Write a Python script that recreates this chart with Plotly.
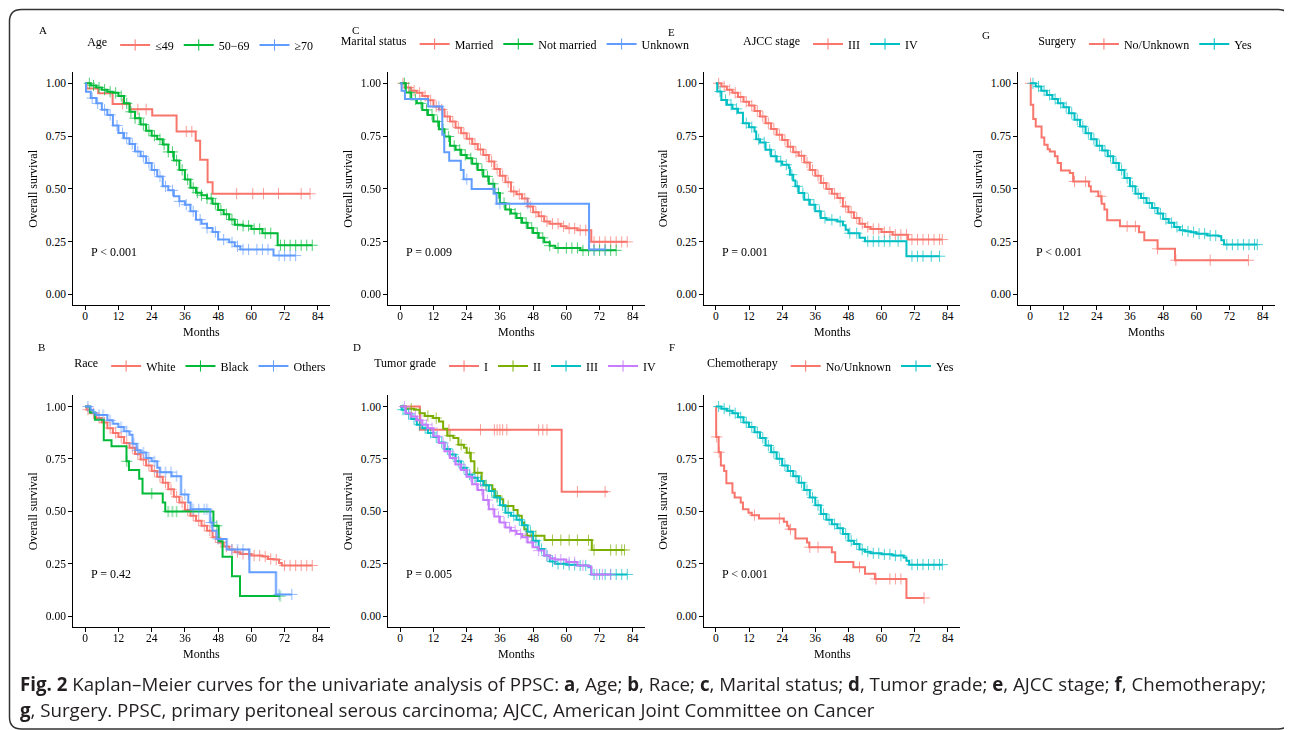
import plotly.graph_objects as go

# the page body has an 8px margin; figure is sized so it exactly fills the 1292x730 window
OFF = 8
FW, FH = 1292 - OFF, 730 - OFF
SERIF = "Liberation Serif, Times New Roman, serif"
SANS = "Open Sans, Noto Sans, sans-serif"

RED, GREEN3, BLUE3 = "#F8766D", "#00BA38", "#619CFF"
CYAN, OLIVE, PURPLE = "#00BFC4", "#7CAE00", "#C77CFF"

x_ticks = [0, 12, 24, 36, 48, 60, 72, 84]
y_ticks = [0.0, 0.25, 0.5, 0.75, 1.0]

# ---------------- A: Age ----------------
age_le49_t = [0, 0.5, 4.7, 9.9, 16.1, 24.2, 33.0, 39.9, 41.5, 44.2, 46.0, 81.2]
age_le49_s = [1.0, 0.976, 0.953, 0.902, 0.877, 0.847, 0.772, 0.728, 0.638, 0.531, 0.477, 0.477]
age_le49_c = [13.5, 19, 22, 36.5, 38.5, 54.7, 60.5, 64.4, 69.8, 78, 81.2]

age_5069_t = [0, 2, 4, 6, 8, 10, 12, 14, 16, 18, 20, 22, 24, 26, 28, 30, 32, 34, 36, 38, 40, 42, 44, 46, 48, 50, 52, 54, 57, 60, 64, 69.5, 82]
age_5069_s = [1.0, 0.99, 0.98, 0.97, 0.96, 0.955, 0.94, 0.905, 0.865, 0.835, 0.805, 0.775, 0.752, 0.735, 0.71, 0.675, 0.635, 0.59, 0.545, 0.505, 0.482, 0.47, 0.455, 0.43, 0.40, 0.38, 0.355, 0.33, 0.325, 0.31, 0.29, 0.233, 0.233]
age_5069_c = [1.5, 3, 5, 7, 9, 11, 13, 15, 16.5, 18, 19.5, 21, 23, 25, 27, 28.5, 30, 31.5, 33, 35, 37, 39, 40.5, 42, 44, 45.5, 47, 49, 51, 53, 55, 57, 59, 61, 63, 65, 67, 70.5, 72, 74, 76, 78, 80, 82]

age_ge70_t = [0, 0.3, 2, 4, 6, 8, 10, 12, 14, 16, 18, 20, 22, 24, 26, 28, 30, 32, 34, 36, 38, 40, 42, 44, 46, 48, 52, 54, 56, 68, 76]
age_ge70_s = [1.0, 0.96, 0.93, 0.905, 0.875, 0.85, 0.80, 0.765, 0.74, 0.713, 0.677, 0.654, 0.622, 0.59, 0.559, 0.512, 0.493, 0.465, 0.441, 0.425, 0.394, 0.354, 0.335, 0.315, 0.296, 0.26, 0.247, 0.228, 0.213, 0.184, 0.184]
age_ge70_c = [2.5, 4.5, 7, 9, 11.5, 13.5, 15, 17, 19, 21, 23, 25, 27, 29, 31.5, 34, 36.5, 39, 41.5, 44, 47, 50, 53, 55, 57, 59, 62, 64, 66, 70, 72, 74, 76]

# ---------------- B: Race ----------------
race_white_t = [0, 0.5, 2, 4, 6, 8, 10, 12, 14, 16, 18, 20, 22, 24, 26, 28, 30, 32, 34, 36, 38, 40, 42, 44, 46, 48, 50, 52, 54, 56, 60, 64, 66, 68, 70, 71, 82]
race_white_s = [1.0, 0.985, 0.968, 0.945, 0.924, 0.897, 0.874, 0.855, 0.826, 0.803, 0.774, 0.747, 0.719, 0.692, 0.665, 0.637, 0.605, 0.57, 0.542, 0.506, 0.479, 0.455, 0.431, 0.408, 0.376, 0.352, 0.332, 0.318, 0.305, 0.297, 0.289, 0.285, 0.273, 0.27, 0.254, 0.242, 0.242]
race_white_c = [1, 3, 5, 7, 9, 11, 13, 15, 17, 19, 21, 23, 25, 27, 29, 31, 33, 35, 37, 39, 41, 43, 45, 47, 49, 51, 53, 55, 57, 59, 61, 63, 65, 67, 69, 72, 74, 76, 78, 80, 82]

race_black_t = [0, 1.7, 3.5, 6.7, 9.5, 14.9, 15.8, 19.5, 20.7, 28.0, 28.9, 46.3, 48.2, 49.6, 53.0, 55.9, 70.4]
race_black_s = [1.0, 0.972, 0.937, 0.839, 0.81, 0.739, 0.697, 0.656, 0.585, 0.542, 0.499, 0.431, 0.357, 0.284, 0.191, 0.096, 0.096]
race_black_c = [15, 24, 30, 31.5, 33, 47.5, 70.4]

race_other_t = [0, 2, 3, 4, 8, 10, 12, 14, 16, 17.1, 18.6, 20, 22, 24, 26, 27, 31.2, 34.6, 37.2, 38.1, 45.1, 46, 47.5, 51.1, 59.3, 68.9, 74.6]
race_other_s = [1.0, 0.984, 0.97, 0.96, 0.934, 0.918, 0.902, 0.882, 0.866, 0.823, 0.791, 0.781, 0.755, 0.739, 0.708, 0.687, 0.668, 0.581, 0.542, 0.51, 0.447, 0.408, 0.368, 0.318, 0.21, 0.104, 0.104]
race_other_c = [1, 5, 6.5, 9, 13, 15, 17.5, 19, 21, 23, 25, 27, 29, 31, 33, 36, 39, 41, 43, 44, 45.5, 48, 53, 55, 57, 70, 74.6]

# ---------------- C: Marital status ----------------
mar_married_t = [0, 2, 4, 6, 8, 10, 12, 14, 16, 18, 20, 22, 24, 26, 28, 30, 32, 34, 36, 38, 40, 42, 44, 46, 48, 50, 52, 54, 58, 60, 64, 69, 82]
mar_married_s = [1.0, 0.98, 0.965, 0.955, 0.94, 0.92, 0.89, 0.876, 0.843, 0.819, 0.79, 0.764, 0.737, 0.713, 0.687, 0.661, 0.63, 0.594, 0.562, 0.531, 0.488, 0.475, 0.454, 0.417, 0.389, 0.37, 0.346, 0.335, 0.323, 0.313, 0.304, 0.249, 0.249]
mar_married_c = [1, 3, 5, 7, 9, 11, 13, 15, 17, 19, 21, 23, 25, 27, 29, 31, 33, 35, 37, 39, 41, 43, 45, 47, 49, 51, 53, 55, 57, 59, 61, 63, 65, 67, 70, 72, 74, 76, 78, 80, 82]

mar_single_t = [0, 2, 4, 6, 8, 10, 12, 14, 16, 18, 20, 22, 24, 26, 28, 30, 32, 34, 36, 38, 40, 42, 44, 46, 48, 50, 52, 54, 56, 65, 78]
mar_single_s = [1.0, 0.956, 0.924, 0.905, 0.874, 0.85, 0.819, 0.783, 0.748, 0.704, 0.685, 0.661, 0.645, 0.619, 0.59, 0.559, 0.524, 0.48, 0.433, 0.402, 0.383, 0.362, 0.339, 0.315, 0.291, 0.268, 0.247, 0.231, 0.22, 0.209, 0.209]
mar_single_c = [1.5, 3.5, 5.5, 7.5, 9.5, 11.5, 13.5, 15.5, 17.5, 19.5, 21.5, 23.5, 25.5, 27.5, 29.5, 31.5, 33.5, 35.5, 37.5, 39.5, 41.5, 43.5, 45.5, 47.5, 49.5, 51.5, 54, 57, 60, 62, 64, 66, 68, 70, 72, 74, 76, 78]

mar_unknown_t = [0, 0.5, 1.7, 10.1, 15.2, 15.9, 17.7, 21.9, 22.9, 25.8, 34.0, 34.8, 68.2, 74]
mar_unknown_s = [1.0, 0.965, 0.926, 0.89, 0.756, 0.674, 0.633, 0.59, 0.546, 0.5, 0.477, 0.43, 0.213, 0.213]
mar_unknown_c = [14, 24, 33.5, 36, 46, 70, 74]

# ---------------- D: Tumor grade ----------------
gr1_t = [0, 7.1, 58.3, 75]
gr1_s = [1.0, 0.889, 0.594, 0.594]
gr1_c = [17.6, 29, 34, 35, 36, 37, 38.5, 50, 51.5, 53, 64, 74]

gr2_t = [0, 2, 5, 7, 8.9, 11.9, 14, 15.5, 17, 19.2, 21, 23, 24, 25.5, 26.8, 29.4, 30.2, 33.3, 34.2, 36, 37.2, 40.9, 42.4, 43.9, 44.8, 45.7, 52.1, 69.2, 81]
gr2_s = [1.0, 0.99, 0.985, 0.968, 0.955, 0.945, 0.929, 0.894, 0.861, 0.85, 0.818, 0.803, 0.779, 0.739, 0.684, 0.645, 0.624, 0.605, 0.573, 0.558, 0.526, 0.506, 0.479, 0.447, 0.415, 0.384, 0.363, 0.316, 0.316]
gr2_c = [4, 10, 13, 18, 22, 25, 28, 31, 35, 39, 46, 47.5, 49, 55, 58, 61, 64, 68, 70, 76, 78, 80, 81]

gr3_t = [0, 0.5, 2, 4, 6, 8, 10, 12, 14, 16, 18, 20, 22, 24, 26, 28, 30, 32, 34, 36, 38, 40, 42, 44, 46, 48, 50, 52, 54, 56, 60, 64, 68, 69, 82]
gr3_s = [1.0, 0.985, 0.965, 0.94, 0.913, 0.897, 0.874, 0.855, 0.829, 0.798, 0.771, 0.739, 0.708, 0.676, 0.66, 0.645, 0.624, 0.597, 0.566, 0.529, 0.494, 0.479, 0.46, 0.434, 0.403, 0.36, 0.321, 0.289, 0.261, 0.25, 0.245, 0.242, 0.234, 0.199, 0.199]
gr3_c = [1, 3, 5, 7, 9, 11, 13, 15, 17, 19, 21, 23, 25, 27, 29, 31, 33, 35, 37, 39, 41, 43, 45, 47, 49, 51, 53, 55, 57, 59, 61, 63, 65, 67, 70, 72, 74, 76, 78, 80, 82]

gr4_t = [0, 2, 4, 6, 8, 10, 12, 14, 16, 18, 20, 22, 24, 26, 28, 30, 32, 34, 36, 38, 40, 42, 44, 46, 48, 50, 52, 54, 56, 60, 64, 68, 69, 76]
gr4_s = [1.0, 0.968, 0.953, 0.934, 0.913, 0.897, 0.858, 0.826, 0.787, 0.755, 0.724, 0.697, 0.665, 0.629, 0.602, 0.554, 0.51, 0.475, 0.447, 0.423, 0.408, 0.392, 0.376, 0.352, 0.329, 0.313, 0.289, 0.276, 0.27, 0.258, 0.242, 0.237, 0.199, 0.199]
gr4_c = [1.5, 3.5, 5.5, 7.5, 9.5, 11.5, 13.5, 15.5, 17.5, 19.5, 21.5, 23.5, 25.5, 27.5, 29.5, 31.5, 33.5, 35.5, 37.5, 39.5, 41.5, 43.5, 45.5, 47.5, 50, 53, 56, 58, 61, 63, 66, 71, 73, 76]

# ---------------- E: AJCC stage ----------------
st3_t = [0, 2, 4, 6, 8, 10, 12, 14, 16, 18, 20, 22, 24, 26, 28, 30, 32, 34, 36, 38, 40, 42, 44, 46, 48, 50, 52, 54, 56, 60, 64, 69.6, 82]
st3_s = [1.0, 0.985, 0.969, 0.955, 0.935, 0.913, 0.895, 0.869, 0.843, 0.811, 0.784, 0.756, 0.732, 0.70, 0.674, 0.657, 0.625, 0.59, 0.562, 0.528, 0.5, 0.477, 0.457, 0.417, 0.389, 0.362, 0.335, 0.32, 0.31, 0.296, 0.283, 0.26, 0.26]
st3_c = [1, 3, 5, 7, 9, 11, 13, 15, 17, 19, 21, 23, 25, 27, 29, 31, 33, 35, 37, 39, 41, 43, 45, 47, 49, 51, 53, 55, 57, 59, 61, 63, 65, 67, 69, 71, 73, 75, 77, 79, 81, 82]

st4_t = [0, 0.5, 2, 4, 6, 8, 9.8, 12, 14, 14.6, 16, 18, 20, 22, 24, 26.4, 26.8, 28, 28.8, 30, 32, 34, 36, 38, 40, 44, 46, 47, 48, 52, 54, 69, 81]
st4_s = [1.0, 0.961, 0.921, 0.898, 0.879, 0.86, 0.811, 0.792, 0.772, 0.735, 0.72, 0.685, 0.654, 0.63, 0.614, 0.60, 0.567, 0.54, 0.512, 0.48, 0.449, 0.425, 0.394, 0.362, 0.354, 0.346, 0.328, 0.307, 0.29, 0.268, 0.252, 0.181, 0.181]
st4_c = [1.5, 3.5, 5.5, 7.5, 11, 13, 15.5, 17.5, 19.5, 21.5, 23.5, 25.5, 27.5, 29.5, 31.5, 33.5, 35.5, 37.5, 39.5, 42, 45, 48.5, 51, 55, 57, 59, 61, 63, 66, 71, 73, 75, 78, 81]

# ---------------- F: Chemotherapy ----------------
chemo_no_t = [0, 0.1, 1, 1.8, 3, 3.8, 6, 6.8, 9, 9.8, 11.8, 13, 15.6, 24.6, 25.8, 26.4, 28.8, 33, 33.8, 42, 43.2, 49.8, 54, 57.6, 69, 75.4]
chemo_no_s = [1.0, 0.855, 0.782, 0.719, 0.692, 0.634, 0.589, 0.566, 0.542, 0.51, 0.494, 0.482, 0.466, 0.45, 0.431, 0.415, 0.371, 0.352, 0.329, 0.305, 0.258, 0.234, 0.202, 0.178, 0.087, 0.087]
chemo_no_c = [0.3, 1.2, 14, 23, 27, 34, 37, 52, 58, 63, 65, 67, 75.4]

chemo_yes_t = [0, 2, 4, 6, 8, 10, 12, 14, 16, 18, 20, 22, 24, 26, 28, 30, 32, 34, 36, 38, 40, 42, 44, 46, 48, 50, 52, 54, 56, 60, 64, 68, 69, 70, 82]
chemo_yes_s = [1.0, 0.99, 0.98, 0.968, 0.949, 0.924, 0.902, 0.877, 0.85, 0.814, 0.782, 0.751, 0.719, 0.692, 0.668, 0.637, 0.602, 0.566, 0.529, 0.487, 0.46, 0.439, 0.419, 0.392, 0.36, 0.344, 0.318, 0.308, 0.30, 0.295, 0.289, 0.28, 0.265, 0.246, 0.246]
chemo_yes_c = [1, 3, 5, 7, 9, 11, 13, 15, 17, 19, 21, 23, 25, 27, 29, 31, 33, 35, 37, 39, 41, 43, 45, 47, 49, 51, 53, 55, 57, 59, 61, 63, 65, 67, 71, 73, 75, 77, 79, 81, 82]

# ---------------- G: Surgery ----------------
surg_no_t = [0, 0.2, 1.1, 2.0, 4.1, 5.1, 6.3, 7.1, 8.9, 9.9, 11.1, 14.3, 15.5, 21.2, 21.9, 24.6, 25.8, 26.8, 27.8, 32.4, 39.3, 41.2, 46.0, 52.3, 78.8]
surg_no_s = [1.0, 0.898, 0.831, 0.795, 0.743, 0.709, 0.688, 0.677, 0.654, 0.622, 0.587, 0.575, 0.535, 0.512, 0.488, 0.465, 0.43, 0.402, 0.351, 0.323, 0.294, 0.257, 0.216, 0.162, 0.162]
surg_no_c = [0.1, 16, 20, 25.5, 35, 38, 46, 52.6, 65, 78.8]

surg_yes_t = [0, 2, 4, 6, 8, 10, 12, 14, 16, 18, 20, 22, 24, 26, 28, 30, 32, 34, 36, 38, 40, 42, 44, 46, 48, 50, 52, 54, 56, 58, 60, 64, 68, 69, 70, 82]
surg_yes_s = [1.0, 0.985, 0.965, 0.945, 0.926, 0.906, 0.887, 0.858, 0.827, 0.795, 0.764, 0.735, 0.704, 0.682, 0.654, 0.622, 0.59, 0.551, 0.512, 0.477, 0.457, 0.433, 0.409, 0.383, 0.357, 0.339, 0.32, 0.304, 0.299, 0.295, 0.288, 0.279, 0.276, 0.257, 0.236, 0.236]
surg_yes_c = [1, 3, 5, 7, 9, 11, 13, 15, 17, 19, 21, 23, 25, 27, 29, 31, 33, 35, 37, 39, 41, 43, 45, 47, 49, 51, 53, 55, 57, 59, 61, 63, 65, 67, 71, 73, 75, 77, 79, 81, 82]

# panel definitions: (letter, legend title, p-text, curves)
panels = [
    ("A", "Age", "P < 0.001", [("≤49", age_le49_t, age_le49_s, age_le49_c, RED),
                               ("50−69", age_5069_t, age_5069_s, age_5069_c, GREEN3),
                               ("≥70", age_ge70_t, age_ge70_s, age_ge70_c, BLUE3)]),
    ("C", "Marital status", "P = 0.009", [("Married", mar_married_t, mar_married_s, mar_married_c, RED),
                                          ("Not married", mar_single_t, mar_single_s, mar_single_c, GREEN3),
                                          ("Unknown", mar_unknown_t, mar_unknown_s, mar_unknown_c, BLUE3)]),
    ("E", "AJCC stage", "P = 0.001", [("III", st3_t, st3_s, st3_c, RED),
                                      ("IV", st4_t, st4_s, st4_c, CYAN)]),
    ("G", "Surgery", "P < 0.001", [("No/Unknown", surg_no_t, surg_no_s, surg_no_c, RED),
                                   ("Yes", surg_yes_t, surg_yes_s, surg_yes_c, CYAN)]),
    ("B", "Race", "P = 0.42", [("White", race_white_t, race_white_s, race_white_c, RED),
                               ("Black", race_black_t, race_black_s, race_black_c, GREEN3),
                               ("Others", race_other_t, race_other_s, race_other_c, BLUE3)]),
    ("D", "Tumor grade", "P = 0.005", [("I", gr1_t, gr1_s, gr1_c, RED),
                                       ("II", gr2_t, gr2_s, gr2_c, OLIVE),
                                       ("III", gr3_t, gr3_s, gr3_c, CYAN),
                                       ("IV", gr4_t, gr4_s, gr4_c, PURPLE)]),
    ("F", "Chemotherapy", "P < 0.001", [("No/Unknown", chemo_no_t, chemo_no_s, chemo_no_c, RED),
                                        ("Yes", chemo_yes_t, chemo_yes_s, chemo_yes_c, CYAN)]),
]

# layout geometry (window pixels)
col_px = [(73.3, 330.0), (388.3, 645.0), (704.0, 960.0), (1018.3, 1275.0)]
row_px = [(71.7, 305.0), (395.0, 626.7)]
cells = [(0, 0), (0, 1), (0, 2), (0, 3), (1, 0), (1, 1), (1, 2)]
letter_px = [(42.5, 30.5), (356, 30.5), (672, 32), (986, 35), (41, 347), (357, 347), (672, 347)]
legend_y_px = [45, 44, 44, 44, 366, 366, 366]
ytitle_dx = [40, 40, 41, 40, 40, 40, 41]


def px(x):
    return (x - OFF) / FW


def py(y):
    return 1 - (y - OFF) / FH


def step_at(ts, ss, x):
    v = ss[0]
    for t, s in zip(ts, ss):
        if t <= x:
            v = s
    return v


fig = go.Figure()
annotations = []
layout_axes = {}

for i, (letter, ltitle, ptext, curves) in enumerate(panels):
    r, c = cells[i]
    k = "" if i == 0 else str(i + 1)
    xa, ya = "x" + k, "y" + k
    leg = "legend" + k
    for name, ts, ss, cs, col in curves:
        fig.add_trace(go.Scatter(x=ts, y=ss, mode="lines", line=dict(color=col, width=2.0, shape="hv"),
                                 xaxis=xa, yaxis=ya, showlegend=False, hoverinfo="skip"))
        fig.add_trace(go.Scatter(x=cs, y=[step_at(ts, ss, v) for v in cs], mode="markers",
                                 marker=dict(symbol="cross-thin", size=8, line=dict(color=col, width=1)),
                                 opacity=0.7, xaxis=xa, yaxis=ya, showlegend=False, hoverinfo="skip"))
        fig.add_trace(go.Scatter(x=[None], y=[None], mode="lines+markers", name=name,
                                 line=dict(color=col, width=2.0),
                                 marker=dict(symbol="cross-thin", size=8, line=dict(color=col, width=1)),
                                 xaxis=xa, yaxis=ya, showlegend=True, legend=leg))
    x0, x1 = col_px[c]
    y0, y1 = row_px[r]
    axis_common = dict(showline=True, linecolor="black", linewidth=1.1, ticks="outside", ticklen=4,
                       tickwidth=1.1, tickcolor="black", showgrid=False, zeroline=False,
                       tickfont=dict(family=SERIF, size=11.5, color="black"), fixedrange=True)
    layout_axes["xaxis" + k] = dict(domain=[px(x0), px(x1)], range=[-4.3, 88.4], tickvals=x_ticks,
                                    anchor=ya, ticklabelstandoff=-4, **axis_common)
    layout_axes["yaxis" + k] = dict(domain=[py(y1), py(y0)], range=[-0.05, 1.055], tickvals=y_ticks,
                                    tickformat=".2f", anchor=xa, **axis_common)
    layout_axes[leg] = dict(orientation="h", x=px((x0 + x1) / 2), xanchor="center",
                            y=py(legend_y_px[i]), yanchor="middle",
                            title=dict(text=ltitle, side="left", font=dict(family=SERIF, size=12, color="black")),
                            font=dict(family=SERIF, size=12, color="black"), bgcolor="rgba(0,0,0,0)",
                            itemwidth=30, tracegroupgap=0)
    # panel letter
    annotations.append(dict(text=letter, x=px(letter_px[i][0]), y=py(letter_px[i][1]), xref="paper",
                            yref="paper", xanchor="center", yanchor="middle", showarrow=False,
                            font=dict(family=SERIF, size=11, color="black")))
    # axis titles
    annotations.append(dict(text="Months", x=px((x0 + x1) / 2), y=py(y1 + 27), xref="paper", yref="paper",
                            xanchor="center", yanchor="middle", showarrow=False,
                            font=dict(family=SERIF, size=12, color="black")))
    annotations.append(dict(text="Overall survival", x=px(x0 - ytitle_dx[i]), y=py((y0 + y1) / 2),
                            xref="paper", yref="paper", xanchor="center", yanchor="middle", textangle=-90,
                            showarrow=False, font=dict(family=SERIF, size=12, color="black")))
    # p-value
    annotations.append(dict(text=ptext, x=1.5, y=0.2, xref=xa, yref=ya, xanchor="left", yanchor="middle",
                            showarrow=False, font=dict(family=SERIF, size=12, color="black")))

cap1 = ("<b>Fig. 2</b> Kaplan–Meier curves for the univariate analysis of PPSC: <b>a</b>, Age; <b>b</b>, Race; "
        "<b>c</b>, Marital status; <b>d</b>, Tumor grade; <b>e</b>, AJCC stage; <b>f</b>, Chemotherapy;")
cap2 = "<b>g</b>, Surgery. PPSC, primary peritoneal serous carcinoma; AJCC, American Joint Committee on Cancer"
for txt, yy in [(cap1, 683), (cap2, 709)]:
    annotations.append(dict(text=txt, x=px(18), y=py(yy), xref="paper", yref="paper", xanchor="left",
                            yanchor="middle", showarrow=False, font=dict(family=SANS, size=18.7, color="#231F20")))

# rounded border frame
rx, ry = 12 / FW, 12 / FH
L, R, T, B = px(9.5), px(1290), py(9.5), py(729)
path = (f"M {L+rx} {T} L {R-rx} {T} Q {R} {T} {R} {T-ry} L {R} {B+ry} Q {R} {B} {R-rx} {B} "
        f"L {L+rx} {B} Q {L} {B} {L} {B+ry} L {L} {T-ry} Q {L} {T} {L+rx} {T} Z")

fig.update_layout(width=FW, height=FH, margin=dict(l=0, r=0, t=0, b=0), paper_bgcolor="white",
                  plot_bgcolor="white", annotations=annotations,
                  shapes=[dict(type="path", path=path, xref="paper", yref="paper",
                               line=dict(color="#333333", width=1.5))],
                  **layout_axes)
fig.write_html("out.html")
